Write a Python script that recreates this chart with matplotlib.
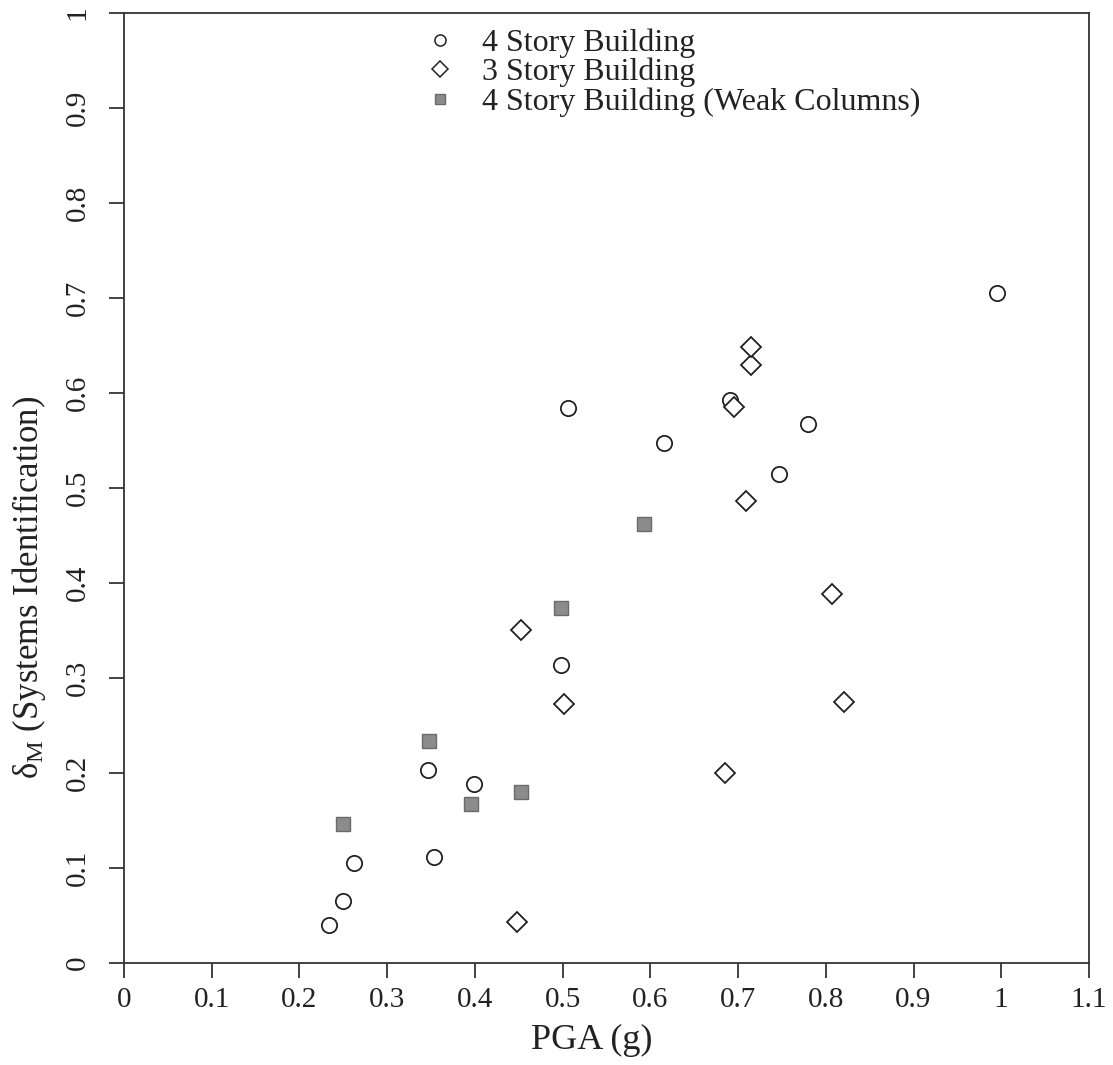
import matplotlib
matplotlib.use("Agg")
import matplotlib.pyplot as plt
from matplotlib.lines import Line2D

plt.rcParams['font.family'] = ['Liberation Serif', 'DejaVu Serif']
plt.rcParams['mathtext.fontset'] = 'custom'
plt.rcParams['mathtext.rm'] = 'Liberation Serif'
plt.rcParams['mathtext.it'] = 'Liberation Serif:italic'

# 4 Story Building
pga_4 = [0.234, 0.250, 0.262, 0.347, 0.353, 0.399, 0.498, 0.506, 0.616, 0.691, 0.747, 0.780, 0.995]
dm_4 = [0.040, 0.065, 0.105, 0.203, 0.112, 0.188, 0.314, 0.584, 0.547, 0.593, 0.515, 0.567, 0.705]
# 3 Story Building
pga_3 = [0.448, 0.453, 0.502, 0.685, 0.695, 0.709, 0.715, 0.715, 0.807, 0.821]
dm_3 = [0.043, 0.350, 0.273, 0.200, 0.585, 0.486, 0.629, 0.648, 0.388, 0.275]
# 4 Story Building (Weak Columns)
pga_w = [0.250, 0.348, 0.395, 0.452, 0.498, 0.593]
dm_w = [0.146, 0.234, 0.167, 0.180, 0.374, 0.462]

labels = ["4 Story Building", "3 Story Building", "4 Story Building (Weak Columns)"]
xticks = [0, 0.1, 0.2, 0.3, 0.4, 0.5, 0.6, 0.7, 0.8, 0.9, 1, 1.1]
xticklabels = ["0", "0.1", "0.2", "0.3", "0.4", "0.5", "0.6", "0.7", "0.8", "0.9", "1", "1.1"]
yticks = [0, 0.1, 0.2, 0.3, 0.4, 0.5, 0.6, 0.7, 0.8, 0.9, 1]
yticklabels = ["0", "0.1", "0.2", "0.3", "0.4", "0.5", "0.6", "0.7", "0.8", "0.9", "1"]

fig = plt.figure(figsize=(11.13, 10.65), dpi=100)
ax = fig.add_axes([0.1114, 0.0958, 0.867, 0.892])

ax.plot(pga_4, dm_4, linestyle='none', marker='o', markersize=11,
        markerfacecolor='white', markeredgecolor='#222222', markeredgewidth=1.3)
ax.plot(pga_3, dm_3, linestyle='none', marker='D', markersize=10,
        markerfacecolor='white', markeredgecolor='#222222', markeredgewidth=1.3)
ax.plot(pga_w, dm_w, linestyle='none', marker='s', markersize=10,
        markerfacecolor='#8c8c8c', markeredgecolor='#6a6a6a', markeredgewidth=1.0)

ax.set_xlim(0, 1.1)
ax.set_ylim(0, 1)
ax.set_xticks(xticks)
ax.set_xticklabels(xticklabels)
ax.set_yticks(yticks)
ax.set_yticklabels(yticklabels, rotation=90, va='center')
ax.tick_params(axis='both', direction='out', length=11, width=1.2, labelsize=21, colors='#222222')
ax.tick_params(axis='x', pad=6)
ax.tick_params(axis='y', pad=13)
for s in ax.spines.values():
    s.set_linewidth(1.3)
    s.set_color('#333333')

fig.text(592 / 1113, 1 - 1040 / 1065, "PGA (g)", ha='center', va='center',
         fontsize=26, color='#222222')
fig.text(29 / 1113, 1 - 587 / 1065, r"δ$_{\mathrm{M}}$ (Systems Identification)",
         rotation=90, ha='center', va='center', fontsize=25, color='#222222')

handles = [
    Line2D([], [], linestyle='none', marker='o', markersize=8, markerfacecolor='white',
           markeredgecolor='#222222', markeredgewidth=1.1),
    Line2D([], [], linestyle='none', marker='D', markersize=8, markerfacecolor='white',
           markeredgecolor='#222222', markeredgewidth=1.1),
    Line2D([], [], linestyle='none', marker='s', markersize=7, markerfacecolor='#8c8c8c',
           markeredgecolor='#6a6a6a', markeredgewidth=1.0),
]
leg = ax.legend(handles, labels, loc='upper left', bbox_to_anchor=(0.311, 0.984),
                frameon=False, fontsize=23, handlelength=1.0, handletextpad=0.8,
                labelspacing=0.0, borderpad=0, borderaxespad=0)
for t in leg.get_texts():
    t.set_color('#222222')

fig.savefig("out.png", dpi=100)
